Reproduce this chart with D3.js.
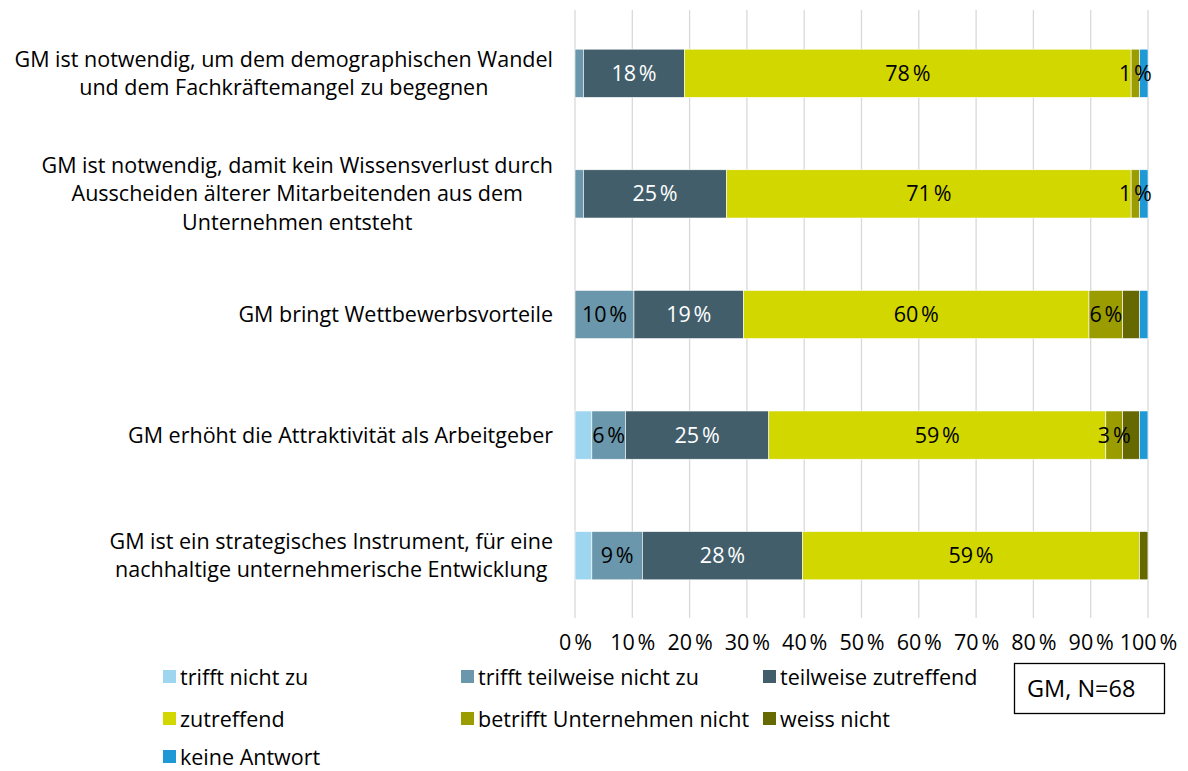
<!DOCTYPE html>
<html>
<head>
<meta charset="utf-8">
<script src="https://cdn.jsdelivr.net/npm/d3@7"></script>
<style>
  body { margin: 0; background: #fff; }
  svg { display: block; font-family: "Open Sans", sans-serif; }
</style>
</head>
<body>
<svg id="chart" width="1188" height="771"></svg>
<script>
// categories, one label per bar (lines split with |)
const categories = [
  "GM ist notwendig, um dem demographischen Wandel|und dem Fachkräftemangel zu begegnen",
  "GM ist notwendig, damit kein Wissensverlust durch|Ausscheiden älterer Mitarbeitenden aus dem|Unternehmen entsteht",
  "GM bringt Wettbewerbsvorteile",
  "GM erhöht die Attraktivität als Arbeitgeber",
  "GM ist ein strategisches Instrument, für eine|nachhaltige unternehmerische Entwicklung"
]
const seriesNames = ["trifft nicht zu", "trifft teilweise nicht zu", "teilweise zutreffend", "zutreffend", "betrifft Unternehmen nicht", "weiss nicht", "keine Antwort"]
const seriesColors = ["#9ed6ef", "#6a97ab", "#425e6b", "#d2d700", "#9a9c00", "#656900", "#1e99d5"]

// percent values per series, in category order
const trifftNicht      = [0,    0,    0,    2.94,  2.94]
const teilweiseNicht   = [1.47, 1.47, 10.29, 5.88, 8.82]
const teilweiseZu      = [17.65, 25.0, 19.12, 25.0, 27.94]
const zutreffend       = [77.94, 70.59, 60.29, 58.82, 58.82]
const betrifftNicht    = [1.47, 1.47, 5.88, 2.94, 0]
const weissNicht       = [0,    0,    2.94, 2.94, 1.47]
const keineAntwort     = [1.47, 1.47, 1.47, 1.47, 0]
const seriesValues = [trifftNicht, teilweiseNicht, teilweiseZu, zutreffend, betrifftNicht, weissNicht, keineAntwort]

// which series carry a visible data label on each bar
const shownLabels = [[2, 3, 4], [2, 3, 4], [1, 2, 3, 4], [1, 2, 3, 4], [1, 2, 3]]
const xTicks = [0, 10, 20, 30, 40, 50, 60, 70, 80, 90, 100]
const note = "GM, N=68"

const fs = 21.5
const svg = d3.select('#chart')
const x = d3.scaleLinear().domain([0, 100]).range([575, 1148])
const y = d3.scaleBand().domain(d3.range(categories.length)).range([13, 616]).paddingInner(0.6).paddingOuter(0.3)

// grid
svg.append('g').selectAll('line').data(xTicks).enter().append('line')
  .attr('x1', d => x(d)).attr('x2', d => x(d))
  .attr('y1', 10).attr('y2', 618)
  .attr('stroke', '#d9d9d9').attr('stroke-width', 1.3)

// stacked data
const rows = categories.map((c, i) => {
  let acc = 0
  return seriesValues.map((s, k) => {
    const seg = { row: i, k: k, v: s[i], x0: acc, x1: acc + s[i] }
    acc += s[i]
    return seg
  })
})

const bars = svg.append('g')
rows.forEach(segs => {
  bars.selectAll(null).data(segs.filter(d => d.v > 0)).enter().append('rect')
    .attr('x', d => x(d.x0))
    .attr('width', d => x(d.x1) - x(d.x0))
    .attr('y', d => y(d.row))
    .attr('height', y.bandwidth())
    .attr('fill', d => seriesColors[d.k])
    .attr('stroke', '#fff').attr('stroke-width', 0.6)

  bars.selectAll(null).data(segs.filter(d => shownLabels[d.row].includes(d.k))).enter().append('text')
    .attr('x', d => (x(d.x0) + x(d.x1)) / 2)
    .attr('y', d => y(d.row) + y.bandwidth() / 2)
    .attr('dy', '0.35em')
    .attr('text-anchor', 'middle')
    .attr('font-size', fs)
    .attr('fill', d => d.k === 2 ? '#fff' : '#000')
    .text(d => Math.round(d.v) + '\u202F%')
})

// category labels: lines centred within a right-aligned block
const labelRight = 553
categories.forEach((c, i) => {
  const lines = c.split('|')
  const lh = 28.5
  const cy = y(i) + y.bandwidth() / 2
  const g = svg.append('g')
  const texts = lines.map((l, j) => g.append('text')
    .attr('y', cy + (j - (lines.length - 1) / 2) * lh)
    .attr('dy', '0.35em')
    .attr('font-size', fs)
    .attr('fill', '#000')
    .attr('text-anchor', 'middle')
    .text(l))
  const maxW = d3.max(texts, t => t.node().getComputedTextLength())
  texts.forEach(t => t.attr('x', labelRight - maxW / 2))
})

// x axis
const axis = svg.append('g').attr('transform', 'translate(0,632)')
  .call(d3.axisBottom(x).tickValues(xTicks).tickSize(0).tickFormat(d => d + '\u202F%'))
axis.select('.domain').remove()
axis.selectAll('text').attr('font-size', fs).attr('fill', '#000').attr('font-family', '"Open Sans", sans-serif')

// legend
const legendPos = [[163, 677], [461, 677], [763, 677], [163, 719], [461, 719], [763, 719], [163, 757]]
const lg = svg.append('g').selectAll('g').data(seriesNames).enter().append('g')
  .attr('transform', (d, i) => `translate(${legendPos[i][0]},${legendPos[i][1]})`)
lg.append('rect').attr('x', 0).attr('y', -7).attr('width', 13).attr('height', 13)
  .attr('fill', (d, i) => seriesColors[i])
lg.append('text').attr('x', 17).attr('dy', '0.35em').attr('font-size', fs).text(d => d)

// note box
svg.append('rect').attr('x', 1014.5).attr('y', 663.5).attr('width', 150).attr('height', 50)
  .attr('fill', '#fff').attr('stroke', '#000').attr('stroke-width', 1.3)
svg.append('text').attr('x', 1027).attr('y', 689).attr('dy', '0.35em').attr('font-size', 23.5).text(note)
</script>
</body>
</html>
